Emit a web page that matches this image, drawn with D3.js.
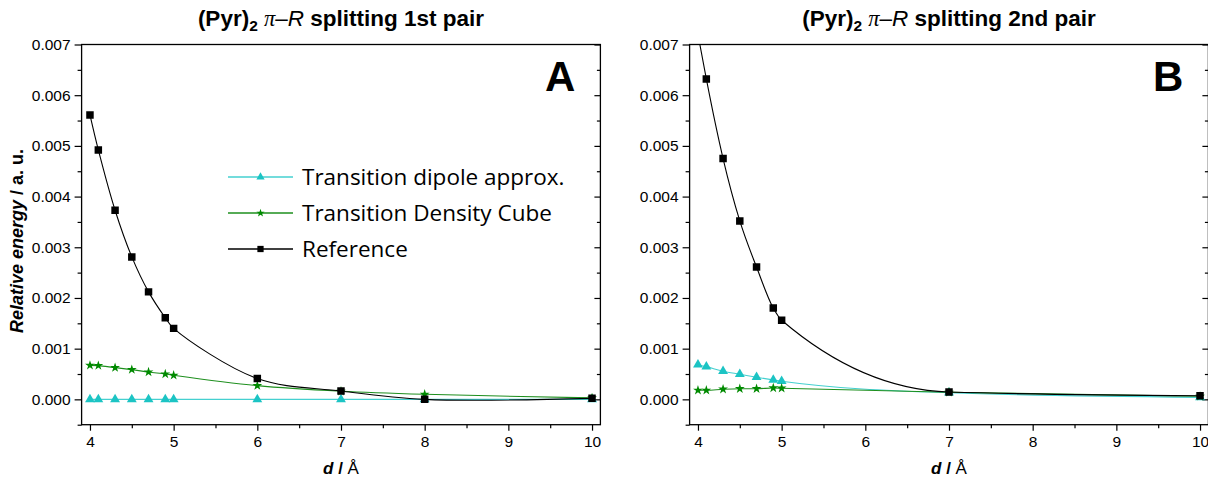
<!DOCTYPE html>
<html>
<head>
<meta charset="utf-8">
<script src="https://cdn.jsdelivr.net/npm/d3@7"></script>
<style>
    body { margin: 0; background: #fff; }
    svg text { font-family: "Liberation Sans", Arial, sans-serif; fill: #000; }
</style>
</head>
<body>
<script>
// distances (Å) and splitting energies (a.u.)
var distA = [4, 4.1, 4.3, 4.5, 4.7, 4.9, 5, 6, 7, 8, 10];
var dipoleA = [0, 0, 0, 0, 0, 0, 0, 0, 0, 0, 0];
var cubeA = [0.00067, 0.000665, 0.000625, 0.000586, 0.00054, 0.0005, 0.000475, 0.00027, 0.00016, 0.0001, 0.00003];
var refA = [0.00561, 0.00492, 0.00373, 0.00281, 0.00212, 0.00161, 0.0014, 0.00041, 0.000165, 0.0, 0.00002];

var distB = [4, 4.1, 4.3, 4.5, 4.7, 4.9, 5, 7, 10];
var dipoleB = [0.000685, 0.000645, 0.000554, 0.000495, 0.000436, 0.000383, 0.000357, 0.00013, 0.00004];
var cubeB = [0.00018, 0.00018, 0.0002, 0.00021, 0.00021, 0.000225, 0.00022, 0.00014, 0.00006];
var refB = [0.0072, 0.00632, 0.00475, 0.00352, 0.00261, 0.0018, 0.00156, 0.000145, 0.00007];

var seriesNames = ["Transition dipole approx.", "Transition Density Cube", "Reference"];
var xTicks = [4, 5, 6, 7, 8, 9, 10];
var xMinor = [4.5, 5.5, 6.5, 7.5, 8.5, 9.5];
var yTicks = [0, 0.001, 0.002, 0.003, 0.004, 0.005, 0.006, 0.007];
var yMinor = [-0.0005, 0.0005, 0.0015, 0.0025, 0.0035, 0.0045, 0.0055, 0.0065];

var styles = [
    { line: "#45d0d0", fill: "#1cc4c4", sym: d3.symbolTriangle, size: 42 },
    { line: "#1e8f1e", fill: "#008a00", sym: d3.symbolStar, size: 30 },
    { line: "#000", fill: "#000", sym: d3.symbolSquare, size: 56 }
];

var svg = d3.select("body").append("svg").attr("width", 1208).attr("height", 480);

function drawPanel(p) {
    var left = p.left, top = 44.5, width = 518.8, height = 380.2;
    var xScale = d3.scaleLinear().domain([3.9, 10.1]).range([left, left + width]);
    var yScale = d3.scaleLinear().domain([-0.0005, 0.007]).range([top + height, top]);

    var g = svg.append("g");

    g.append("clipPath").attr("id", "clip" + p.id)
        .append("rect").attr("x", left).attr("y", top).attr("width", width).attr("height", height);

    // bottom axis
    g.append("g")
        .attr("transform", "translate(0," + (top + height) + ")")
        .call(d3.axisBottom(xScale).tickValues(xTicks).tickSizeInner(6).tickSizeOuter(0).tickPadding(5).tickFormat(d3.format("d")))
        .call(a => a.select(".domain").remove())
        .call(a => a.selectAll("text").style("font-size", "15.5px").attr("fill", "#000"));
    g.append("g")
        .attr("transform", "translate(0," + (top + height) + ")")
        .call(d3.axisBottom(xScale).tickValues(xMinor).tickSize(3.5).tickFormat(""))
        .call(a => a.select(".domain").remove());

    // left axis
    g.append("g")
        .attr("transform", "translate(" + left + ",0)")
        .call(d3.axisLeft(yScale).tickValues(yTicks).tickSizeInner(7).tickSizeOuter(0).tickPadding(4).tickFormat(d3.format(".3f")))
        .call(a => a.select(".domain").remove())
        .call(a => a.selectAll("text").style("font-size", "15.5px").attr("fill", "#000"));
    g.append("g")
        .attr("transform", "translate(" + left + ",0)")
        .call(d3.axisLeft(yScale).tickValues(yMinor).tickSize(4).tickFormat(""))
        .call(a => a.select(".domain").remove());

    // right axis, ticks pointing inward
    g.append("g")
        .attr("transform", "translate(" + (left + width) + ",0)")
        .call(d3.axisLeft(yScale).tickValues(yTicks).tickSize(6).tickFormat(""))
        .call(a => a.select(".domain").remove());
    g.append("g")
        .attr("transform", "translate(" + (left + width) + ",0)")
        .call(d3.axisLeft(yScale).tickValues(yMinor.slice(1)).tickSize(3.5).tickFormat(""))
        .call(a => a.select(".domain").remove());

    g.selectAll(".tick line").attr("stroke", "#000").attr("stroke-width", 1.2);

    // frame
    g.append("rect")
        .attr("x", left).attr("y", top).attr("width", width).attr("height", height)
        .attr("fill", "none").attr("stroke", "#000").attr("stroke-width", 1.3);

    var plot = g.append("g").attr("clip-path", "url(#clip" + p.id + ")");
    var line = d3.line()
        .x(d => xScale(d[0]))
        .y(d => yScale(d[1]))
        .curve(p.curve);

    p.series.forEach(function(vals, i) {
        var pts = p.dist.map((d, j) => [d, vals[j]]);
        var st = styles[i];
        plot.append("path")
            .attr("d", line(pts))
            .attr("fill", "none")
            .attr("stroke", st.line)
            .attr("stroke-width", 1.1);
        plot.selectAll(".m" + i)
            .data(pts)
            .enter()
            .append("path")
            .attr("transform", d => "translate(" + xScale(d[0]) + "," + yScale(d[1]) + ")")
            .attr("d", d3.symbol().type(st.sym).size(st.size))
            .attr("fill", st.fill);
    });

    // title
    var title = g.append("text")
        .attr("x", left + width / 2)
        .attr("y", 26)
        .attr("text-anchor", "middle")
        .style("font-size", "22.5px")
        .style("font-weight", "bold");
    title.append("tspan").text("(Pyr)");
    title.append("tspan").attr("dy", 5).style("font-size", "15.5px").text("2");
    title.append("tspan").attr("dy", -5).text(" ");
    title.append("tspan").style("font-family", "'Liberation Serif', serif").style("font-style", "italic").style("font-weight", "normal").text("π");
    title.append("tspan").style("font-weight", "normal").text("–");
    title.append("tspan").style("font-style", "italic").style("font-weight", "normal").text("R");
    title.append("tspan").text(" splitting " + p.pair + " pair");

    // x axis label
    var xl = g.append("text")
        .attr("x", left + width / 2)
        .attr("y", 474)
        .attr("text-anchor", "middle")
        .style("font-size", "17px");
    xl.append("tspan").style("font-weight", "bold").style("font-style", "italic").text("d");
    xl.append("tspan").style("font-weight", "bold").text(" / ");
    xl.append("tspan").text("Å");

    // panel letter
    g.append("text")
        .attr("x", left + width - 25)
        .attr("y", 91)
        .attr("text-anchor", "end")
        .style("font-size", "42px")
        .style("font-weight", "bold")
        .text(p.id);

    return { xScale, yScale };
}

drawPanel({ id: "A", left: 81.6, pair: "1st", dist: distA, series: [dipoleA, cubeA, refA], curve: d3.curveCatmullRom.alpha(0.5) });
drawPanel({ id: "B", left: 689.6, pair: "2nd", dist: distB, series: [dipoleB, cubeB, refB], curve: d3.curveMonotoneX });

// y axis title (panel A only)
var yl = svg.append("text")
    .attr("transform", "translate(23,241) rotate(-90)")
    .attr("text-anchor", "middle")
    .style("font-size", "18px")
    .style("font-weight", "bold");
yl.append("tspan").style("font-style", "italic").text("Relative energy");
yl.append("tspan").text(" / a. u.");

// legend
var legend = svg.append("g").attr("transform", "translate(228,177)");
seriesNames.forEach(function(name, i) {
    var st = styles[i];
    var row = legend.append("g").attr("transform", "translate(0," + (i * 36) + ")");
    row.append("line").attr("x1", 0).attr("x2", 65).attr("stroke", st.line).attr("stroke-width", 1.3);
    row.append("path")
        .attr("transform", "translate(32.5,0)")
        .attr("d", d3.symbol().type(st.sym).size(st.size * 0.7))
        .attr("fill", st.fill);
    row.append("text")
        .attr("x", 74)
        .attr("y", 8)
        .style("font-family", "'Open Sans', sans-serif")
        .style("font-size", "22.5px")
        .text(name);
});
</script>
</body>
</html>
